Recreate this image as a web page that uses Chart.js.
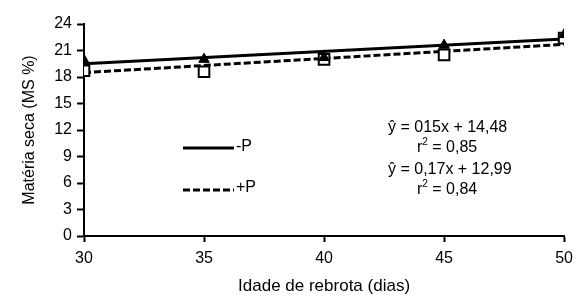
<!DOCTYPE html>
<html>
<head>
<meta charset="utf-8">
<script src="https://cdn.jsdelivr.net/npm/chart.js@4"></script>
<style>
  html, body { margin: 0; padding: 0; background: #fff; }
  #wrap { width: 580px; height: 299px; }
</style>
</head>
<body>
<div id="wrap"><canvas id="msChart"></canvas></div>
<script>
// Days of regrowth and dry matter (%)
const days = [30, 35, 40, 45, 50];
const msMinusP = [19.9, 20.0, 20.2, 21.6, 22.8];   // -P, filled markers
const msPlusP = [18.7, 18.6, 20.0, 20.5, 22.4];    // +P, open squares
const fitMinusP = [19.5, 22.3];                      // fitted line at 30 and 50
const fitPlusP = [18.5, 21.7];
const fitDays = [30, 50];
const eqMinusP = ['ŷ = 015x + 14,48', '0,85'];
const eqPlusP = ['ŷ = 0,17x + 12,99', '0,84'];

const FONT = 'Liberation Sans, Arial, sans-serif';

function toPoints(xs, ys) {
    return xs.map((x, i) => ({ x: x, y: ys[i] }));
}

// Draws the in-plot legend and regression equations
const notesPlugin = {
    id: 'notes',
    afterDatasetsDraw(chart) {
        const ctx = chart.ctx;
        ctx.save();
        ctx.fillStyle = '#000';
        ctx.strokeStyle = '#000';
        ctx.lineWidth = 3;

        // legend samples
        ctx.beginPath();
        ctx.setLineDash([]);
        ctx.moveTo(183, 148);
        ctx.lineTo(234, 148);
        ctx.stroke();
        ctx.beginPath();
        ctx.setLineDash([7, 3]);
        ctx.moveTo(183, 190);
        ctx.lineTo(234, 190);
        ctx.stroke();
        ctx.setLineDash([]);

        ctx.font = '16px ' + FONT;
        ctx.textBaseline = 'middle';
        ctx.textAlign = 'left';
        ctx.fillText('-P', 236, 147);
        ctx.fillText('+P', 236, 188);

        function equation(lines, y) {
            ctx.font = '16px ' + FONT;
            ctx.textAlign = 'left';
            ctx.fillText(lines[0], 388, y);
            // r² with a raised small 2
            const rx = 417;
            const ry = y + 20;
            ctx.fillText('r', rx, ry);
            const rw = ctx.measureText('r').width;
            ctx.font = '10px ' + FONT;
            ctx.fillText('2', rx + rw, ry - 6);
            const tw = ctx.measureText('2').width;
            ctx.font = '16px ' + FONT;
            ctx.fillText(' = ' + lines[1], rx + rw + tw, ry);
        }
        equation(eqMinusP, 128);
        equation(eqPlusP, 170);
        ctx.restore();
    }
};

new Chart(document.getElementById('msChart'), {
    type: 'scatter',
    data: {
        datasets: [
            {
                label: '+P',
                type: 'line',
                data: toPoints(fitDays, fitPlusP),
                borderColor: '#000',
                borderWidth: 3,
                borderDash: [7, 3],
                pointRadius: 0,
                fill: false,
                order: 4
            },
            {
                label: '-P',
                type: 'line',
                data: toPoints(fitDays, fitMinusP),
                borderColor: '#000',
                borderWidth: 3,
                pointRadius: 0,
                fill: false,
                order: 3
            },
            {
                label: '+P obs',
                data: toPoints(days, msPlusP),
                pointStyle: 'rect',
                pointRadius: 7.5,
                backgroundColor: '#fff',
                borderColor: '#000',
                borderWidth: 2,
                order: 2
            },
            {
                label: '-P obs',
                data: toPoints(days, msMinusP),
                pointStyle: 'triangle',
                pointRadius: 6,
                backgroundColor: '#000',
                borderColor: '#000',
                borderWidth: 1,
                order: 1
            }
        ]
    },
    options: {
        responsive: true,
        maintainAspectRatio: false,
        animation: false,
        layout: { padding: { top: 24, right: 12, left: 0, bottom: 0 } },
        plugins: {
            legend: { display: false },
            tooltip: { enabled: false }
        },
        scales: {
            x: {
                type: 'linear',
                min: 30,
                max: 50,
                afterFit: (scale) => { scale.height = 63; },
                ticks: {
                    stepSize: 5,
                    color: '#000',
                    font: { family: FONT, size: 16 },
                    padding: 7
                },
                grid: {
                    drawOnChartArea: false,
                    drawTicks: true,
                    tickLength: 6,
                    tickWidth: 2,
                    color: '#000'
                },
                border: { display: true, color: '#000', width: 2 },
                title: {
                    display: true,
                    text: 'Idade de rebrota (dias)',
                    color: '#000',
                    font: { family: FONT, size: 17 },
                    padding: { top: 8, bottom: 2 }
                }
            },
            y: {
                min: 0,
                max: 24,
                afterFit: (scale) => { scale.width = 84; },
                ticks: {
                    stepSize: 3,
                    color: '#000',
                    font: { family: FONT, size: 16 },
                    padding: 5
                },
                grid: {
                    drawOnChartArea: false,
                    drawTicks: true,
                    tickLength: 7,
                    tickWidth: 2,
                    color: '#000'
                },
                border: { display: true, color: '#000', width: 2 },
                title: {
                    display: true,
                    text: 'Matéria seca (MS %)',
                    color: '#000',
                    font: { family: FONT, size: 16 },
                    padding: { top: 20, bottom: 10 }
                }
            }
        }
    },
    plugins: [notesPlugin]
});
</script>
</body>
</html>
